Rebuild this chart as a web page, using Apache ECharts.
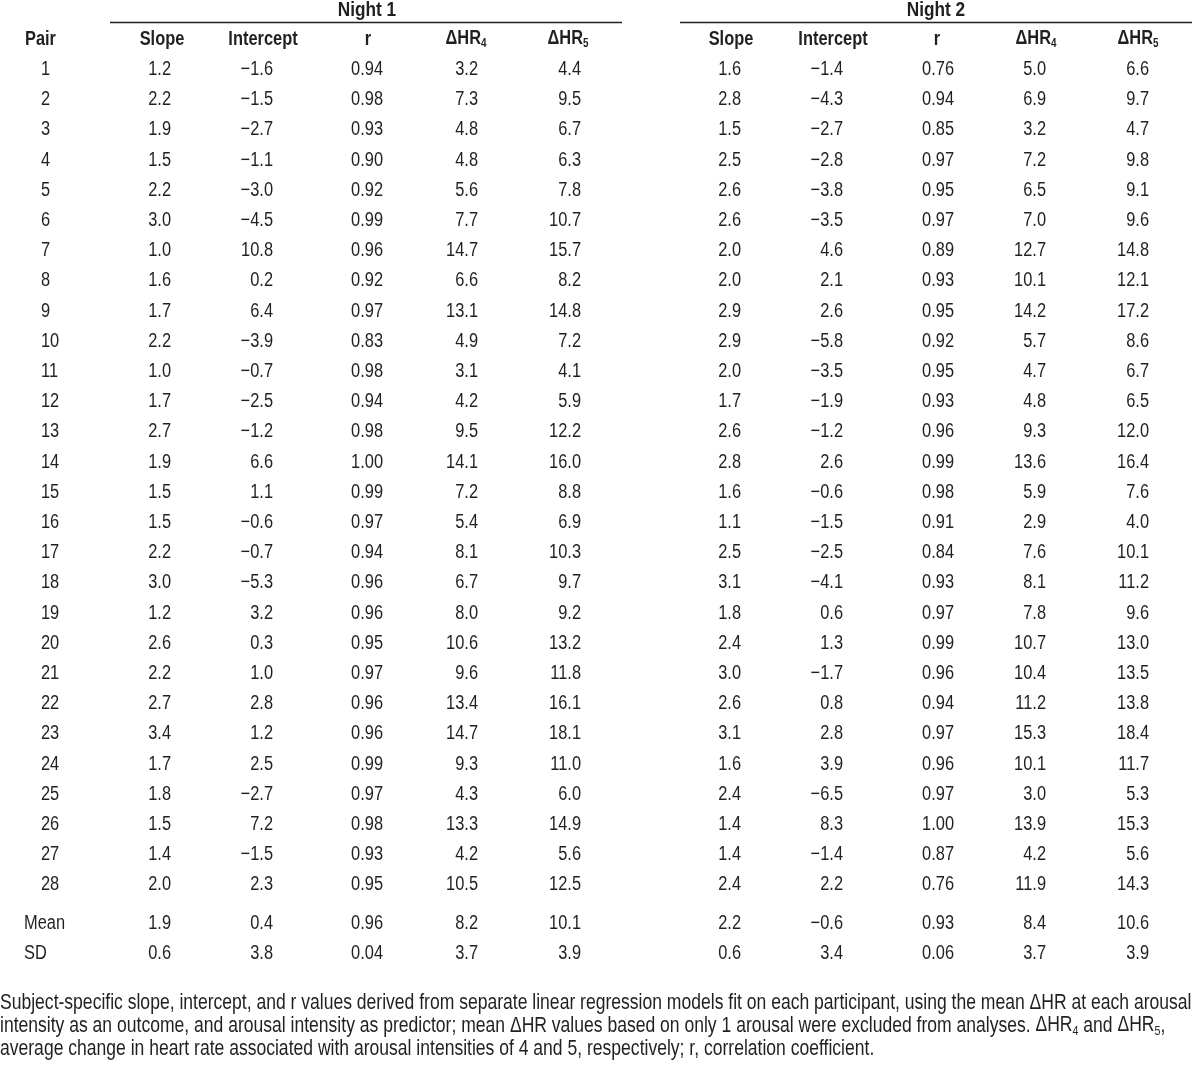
<!DOCTYPE html>
<html>
<head>
<meta charset="utf-8">
<script src="https://cdn.jsdelivr.net/npm/echarts@6/dist/echarts.min.js"></script>
<style>
  html, body { margin: 0; padding: 0; background: #fff; }
  #chart { width: 1200px; height: 1068px; }
</style>
</head>
<body>
<div id="chart"></div>
<script>
// table values
const pairs = ['1','2','3','4','5','6','7','8','9','10','11','12','13','14','15','16','17','18','19','20','21','22','23','24','25','26','27','28'];

const n1Slope = [1.2,2.2,1.9,1.5,2.2,3.0,1.0,1.6,1.7,2.2,1.0,1.7,2.7,1.9,1.5,1.5,2.2,3.0,1.2,2.6,2.2,2.7,3.4,1.7,1.8,1.5,1.4,2.0];
const n1Intercept = [-1.6,-1.5,-2.7,-1.1,-3.0,-4.5,10.8,0.2,6.4,-3.9,-0.7,-2.5,-1.2,6.6,1.1,-0.6,-0.7,-5.3,3.2,0.3,1.0,2.8,1.2,2.5,-2.7,7.2,-1.5,2.3];
const n1R = [0.94,0.98,0.93,0.90,0.92,0.99,0.96,0.92,0.97,0.83,0.98,0.94,0.98,1.00,0.99,0.97,0.94,0.96,0.96,0.95,0.97,0.96,0.96,0.99,0.97,0.98,0.93,0.95];
const n1Dhr4 = [3.2,7.3,4.8,4.8,5.6,7.7,14.7,6.6,13.1,4.9,3.1,4.2,9.5,14.1,7.2,5.4,8.1,6.7,8.0,10.6,9.6,13.4,14.7,9.3,4.3,13.3,4.2,10.5];
const n1Dhr5 = [4.4,9.5,6.7,6.3,7.8,10.7,15.7,8.2,14.8,7.2,4.1,5.9,12.2,16.0,8.8,6.9,10.3,9.7,9.2,13.2,11.8,16.1,18.1,11.0,6.0,14.9,5.6,12.5];

const n2Slope = [1.6,2.8,1.5,2.5,2.6,2.6,2.0,2.0,2.9,2.9,2.0,1.7,2.6,2.8,1.6,1.1,2.5,3.1,1.8,2.4,3.0,2.6,3.1,1.6,2.4,1.4,1.4,2.4];
const n2Intercept = [-1.4,-4.3,-2.7,-2.8,-3.8,-3.5,4.6,2.1,2.6,-5.8,-3.5,-1.9,-1.2,2.6,-0.6,-1.5,-2.5,-4.1,0.6,1.3,-1.7,0.8,2.8,3.9,-6.5,8.3,-1.4,2.2];
const n2R = [0.76,0.94,0.85,0.97,0.95,0.97,0.89,0.93,0.95,0.92,0.95,0.93,0.96,0.99,0.98,0.91,0.84,0.93,0.97,0.99,0.96,0.94,0.97,0.96,0.97,1.00,0.87,0.76];
const n2Dhr4 = [5.0,6.9,3.2,7.2,6.5,7.0,12.7,10.1,14.2,5.7,4.7,4.8,9.3,13.6,5.9,2.9,7.6,8.1,7.8,10.7,10.4,11.2,15.3,10.1,3.0,13.9,4.2,11.9];
const n2Dhr5 = [6.6,9.7,4.7,9.8,9.1,9.6,14.8,12.1,17.2,8.6,6.7,6.5,12.0,16.4,7.6,4.0,10.1,11.2,9.6,13.0,13.5,13.8,18.4,11.7,5.3,15.3,5.6,14.3];

const summaryLabels = ['Mean', 'SD'];
const n1SummarySlope = [1.9, 0.6];
const n1SummaryIntercept = [0.4, 3.8];
const n1SummaryR = [0.96, 0.04];
const n1SummaryDhr4 = [8.2, 3.7];
const n1SummaryDhr5 = [10.1, 3.9];
const n2SummarySlope = [2.2, 0.6];
const n2SummaryIntercept = [-0.6, 3.4];
const n2SummaryR = [0.93, 0.06];
const n2SummaryDhr4 = [8.4, 3.7];
const n2SummaryDhr5 = [10.6, 3.9];

const groupTitles = ['Night 1', 'Night 2'];
const columnHeaders = ['Slope', 'Intercept', 'r', '{b|ΔHR}{s|4}', '{b|ΔHR}{s|5}'];

const footnoteLines = [
  'Subject-specific slope, intercept, and r values derived from separate linear regression models fit on each participant, using the mean ΔHR at each arousal',
  'intensity as an outcome, and arousal intensity as predictor; mean ΔHR values based on only 1 arousal were excluded from analyses. {n|ΔHR}{s|4} and {n|ΔHR}{s|5},',
  'average change in heart rate associated with arousal intensities of 4 and 5, respectively; r, correlation coefficient.'
];

// layout (pixel units of the full-page grid)
// no narrow sans is installed, so Liberation Sans is squeezed to Arial Narrow proportions
const FONT = "'Liberation Sans', Arial, sans-serif";
const NARROW = 0.82;
const INK = '#231f20';
const pairLeft = 41;
const summaryLeft = 24;
const n1Right = [171, 273, 383, 478, 581];
const n2Right = [741, 843, 954, 1046, 1149];
const n1HeadCenter = [162, 263, 368, 466, 568];
const n2HeadCenter = [731, 833, 937, 1036, 1138];
const headY = 39;
const firstRowY = 69.5;
const rowStep = 30.2;
const summaryY = [923, 953];

const f1 = v => (v < 0 ? '\u2212' : '') + Math.abs(v).toFixed(1);
const f2 = v => (v < 0 ? '\u2212' : '') + Math.abs(v).toFixed(2);

const cells = [];
function cell(x, y, text, align, bold, size) {
  cells.push({ x: x, y: y, text: text, align: align, bold: !!bold, size: size || 20 });
}

// header row
cell(25, headY, 'Pair', 'left', true);
columnHeaders.forEach((h, i) => {
  cell(n1HeadCenter[i], headY, h, 'center', true);
  cell(n2HeadCenter[i], headY, h, 'center', true);
});

// body rows
const n1Cols = [[n1Slope, f1], [n1Intercept, f1], [n1R, f2], [n1Dhr4, f1], [n1Dhr5, f1]];
const n2Cols = [[n2Slope, f1], [n2Intercept, f1], [n2R, f2], [n2Dhr4, f1], [n2Dhr5, f1]];
pairs.forEach((p, r) => {
  const y = firstRowY + r * rowStep;
  cell(pairLeft, y, p, 'left');
  n1Cols.forEach((c, i) => cell(n1Right[i], y, c[1](c[0][r]), 'right'));
  n2Cols.forEach((c, i) => cell(n2Right[i], y, c[1](c[0][r]), 'right'));
});

// summary rows
const n1Sum = [[n1SummarySlope, f1], [n1SummaryIntercept, f1], [n1SummaryR, f2], [n1SummaryDhr4, f1], [n1SummaryDhr5, f1]];
const n2Sum = [[n2SummarySlope, f1], [n2SummaryIntercept, f1], [n2SummaryR, f2], [n2SummaryDhr4, f1], [n2SummaryDhr5, f1]];
summaryLabels.forEach((lab, r) => {
  const y = summaryY[r];
  cell(summaryLeft, y, lab, 'left');
  n1Sum.forEach((c, i) => cell(n1Right[i], y, c[1](c[0][r]), 'right'));
  n2Sum.forEach((c, i) => cell(n2Right[i], y, c[1](c[0][r]), 'right'));
});

// group titles
cell(367, 10, groupTitles[0], 'center', true, 21);
cell(936, 10, groupTitles[1], 'center', true, 21);

const chart = echarts.init(document.getElementById('chart'));

chart.setOption({
  animation: false,
  backgroundColor: '#fff',
  grid: { left: 0, right: 0, top: 0, bottom: 0 },
  xAxis: { type: 'value', min: 0, max: 1200, show: false },
  yAxis: { type: 'value', min: 0, max: 1068, inverse: true, show: false },
  series: [
    {
      type: 'custom',
      coordinateSystem: 'cartesian2d',
      data: cells.map(c => [c.x, c.y]),
      renderItem: function (params, api) {
        const c = cells[params.dataIndex];
        const pt = api.coord([c.x, c.y]);
        return {
          type: 'text',
          x: pt[0],
          y: pt[1],
          scaleX: NARROW,
          style: {
            text: c.text,
            align: c.align,
            verticalAlign: 'middle',
            fontFamily: FONT,
            fontSize: c.size,
            fontWeight: c.bold ? 'bold' : 'normal',
            fill: INK,
            rich: {
              b: { fontFamily: FONT, fontSize: 20, fontWeight: 'bold', fill: INK, verticalAlign: 'bottom', padding: [0, 0, 2, 0] },
              s: { fontFamily: FONT, fontSize: 12, fontWeight: 'bold', fill: INK, verticalAlign: 'bottom' }
            }
          }
        };
      }
    }
  ],
  graphic: [
    { type: 'line', shape: { x1: 110, y1: 22.5, x2: 622, y2: 22.5 }, style: { stroke: INK, lineWidth: 1.3 } },
    { type: 'line', shape: { x1: 680, y1: 22.5, x2: 1192, y2: 22.5 }, style: { stroke: INK, lineWidth: 1.3 } }
  ].concat(footnoteLines.map((t, i) => ({
    type: 'text',
    x: 0,
    y: 1003 + i * 23,
    scaleX: NARROW,
    style: {
      text: t,
      verticalAlign: 'middle',
      fontFamily: FONT,
      fontSize: 21.4,
      fill: INK,
      rich: {
        n: { fontFamily: FONT, fontSize: 21.4, fill: INK, verticalAlign: 'bottom', padding: [0, 0, 2, 0] },
        s: { fontFamily: FONT, fontSize: 13, fill: INK, verticalAlign: 'bottom' }
      }
    }
  })))
});
</script>
</body>
</html>
